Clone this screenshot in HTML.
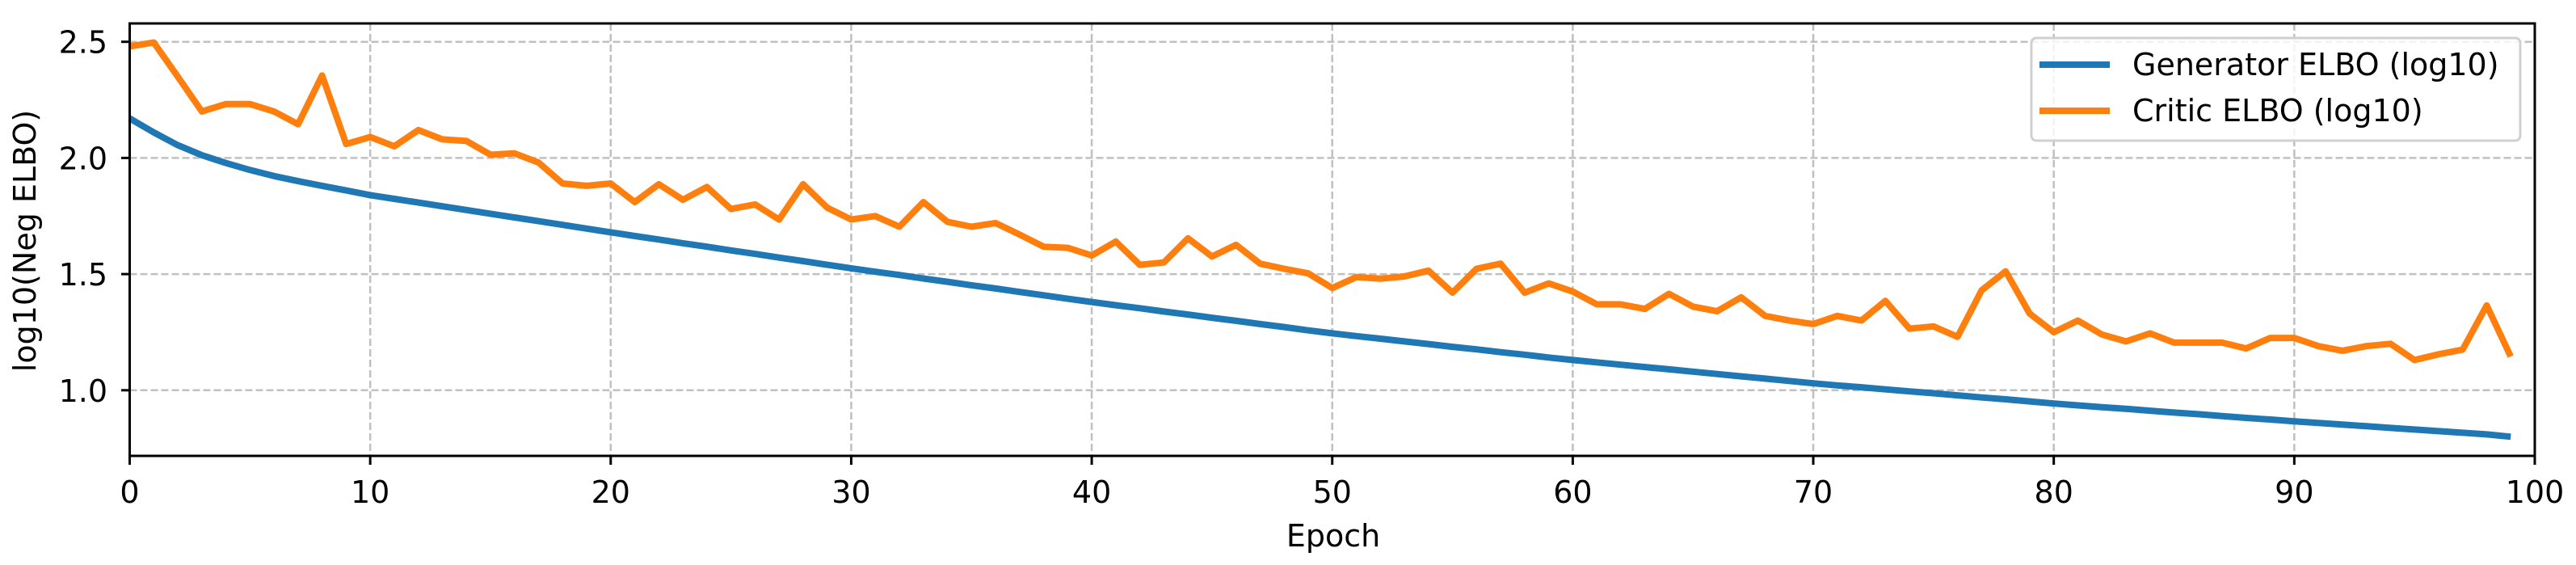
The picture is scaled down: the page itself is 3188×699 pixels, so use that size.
<!DOCTYPE html>
<html><head><meta charset="utf-8"><style>
html,body{margin:0;padding:0;background:#fff;}
svg{display:block;font-family:"DejaVu Sans","Liberation Sans",sans-serif;}
</style></head><body>
<svg id="chart" width="3188" height="699" viewBox="0 0 3188 699" xmlns="http://www.w3.org/2000/svg">
<g id="grid"></g>
<g id="series"></g>
<rect x="160.5" y="29" width="2976.5" height="535" fill="none" stroke="#000" stroke-width="3"/>
<g id="ticks"></g>
<text x="1650" y="676" font-size="38" text-anchor="middle">Epoch</text>
<text transform="translate(44,298) rotate(-90)" font-size="38" text-anchor="middle">log10(Neg ELBO)</text>
<g>
<rect x="2514" y="47" width="605" height="127" rx="6" fill="#fff" fill-opacity="0.8" stroke="#d0d0d0" stroke-width="3"/>
<line x1="2524" y1="80" x2="2611" y2="80" stroke="#1f77b4" stroke-width="8"/>
<text x="2639" y="93" font-size="38">Generator ELBO (log10)</text>
<line x1="2524" y1="137" x2="2611" y2="137" stroke="#ff7f0e" stroke-width="8"/>
<text x="2639" y="150" font-size="38">Critic ELBO (log10)</text>
</g>
</svg>
<script>
const generator = [2.17,2.11,2.055,2.012,1.978,1.948,1.922,1.9,1.88,1.86,1.84,
1.824,1.808,1.792,1.776,1.76,1.744,1.728,1.712,1.696,1.68,
1.664,1.649,1.633,1.618,1.602,1.587,1.571,1.556,1.54,1.525,
1.51,1.496,1.481,1.467,1.452,1.438,1.423,1.409,1.394,1.38,
1.366,1.353,1.339,1.326,1.312,1.299,1.285,1.272,1.258,1.245,
1.233,1.222,1.21,1.199,1.187,1.176,1.164,1.153,1.141,1.13,
1.12,1.11,1.1,1.09,1.08,1.07,1.06,1.05,1.04,1.03,
1.021,1.013,1.004,0.995,0.987,0.978,0.969,0.961,0.952,0.943,
0.935,0.927,0.92,0.912,0.904,0.897,0.889,0.881,0.874,0.866,
0.859,0.852,0.845,0.838,0.831,0.824,0.817,0.81,0.8];
const critic = [2.48,2.497,2.35,2.2,2.232,2.232,2.2,2.145,2.355,2.06,
2.09,2.05,2.12,2.08,2.073,2.014,2.02,1.98,1.89,1.88,
1.89,1.81,1.887,1.82,1.875,1.78,1.8,1.735,1.887,1.786,
1.735,1.75,1.704,1.81,1.725,1.704,1.72,1.67,1.618,1.613,
1.58,1.64,1.54,1.55,1.654,1.576,1.626,1.545,1.523,1.503,
1.44,1.487,1.48,1.49,1.515,1.42,1.523,1.545,1.42,1.46,
1.425,1.37,1.37,1.35,1.415,1.36,1.34,1.4,1.32,1.3,
1.285,1.32,1.3,1.385,1.265,1.275,1.23,1.43,1.512,1.33,
1.25,1.3,1.24,1.21,1.245,1.205,1.205,1.205,1.18,1.225,
1.225,1.19,1.17,1.19,1.2,1.13,1.155,1.175,1.365,1.145];
const xTicks = [0,10,20,30,40,50,60,70,80,90,100];
const yTicks = [1.0,1.5,2.0,2.5];
const yTickLabels = ["1.0","1.5","2.0","2.5"];

const NS = "http://www.w3.org/2000/svg";
const X0 = 160.5, X1 = 3137, XMIN = 0, XMAX = 100;
const Y0 = 482.8, Y1 = 51.7, YA = 1.0, YB = 2.5;
function sx(v){ return X0 + (v - XMIN) / (XMAX - XMIN) * (X1 - X0); }
function sy(v){ return Y0 + (v - YA) / (YB - YA) * (Y1 - Y0); }
function mk(tag, attrs, parent){
  const el = document.createElementNS(NS, tag);
  for (const k in attrs) el.setAttribute(k, attrs[k]);
  parent.appendChild(el);
  return el;
}
const grid = document.getElementById('grid');
const ticks = document.getElementById('ticks');
const series = document.getElementById('series');

xTicks.forEach(function(t){
  const x = sx(t);
  const g = mk('line', {x1:x, y1:29, x2:x, y2:564, stroke:'#b0b0b0', 'stroke-opacity':0.8, 'stroke-width':2.5, 'stroke-dasharray':'9,4'}, grid);
  
  
  const tk = mk('line', {x1:x, y1:564, x2:x, y2:575, stroke:'#000', 'stroke-width':3}, ticks);
  
  
  const lb = mk('text', {x:x, y:622, 'font-size':38, 'text-anchor':'middle'}, ticks);
  lb.textContent = String(t);
  
  
});
yTicks.forEach(function(t, i){
  const y = sy(t);
  const g = mk('line', {x1:160.5, y1:y, x2:3137, y2:y, stroke:'#b0b0b0', 'stroke-opacity':0.8, 'stroke-width':2.5, 'stroke-dasharray':'9,4'}, grid);
  
  
  const tk = mk('line', {x1:150, y1:y, x2:160.5, y2:y, stroke:'#000', 'stroke-width':3}, ticks);
  
  
  const lb = mk('text', {x:133, y:y + 14, 'font-size':38, 'text-anchor':'end'}, ticks);
  lb.textContent = yTickLabels[i];
  
  
});
function pathFor(arr){
  return arr.map(function(v, i){ return (i ? 'L' : 'M') + sx(i).toFixed(1) + ',' + sy(v).toFixed(1); }).join(' ');
}
const gl = mk('path', {d:pathFor(generator), fill:'none', stroke:'#1f77b4', 'stroke-width':8, 'stroke-linejoin':'round'}, series);


const cl = mk('path', {d:pathFor(critic), fill:'none', stroke:'#ff7f0e', 'stroke-width':8, 'stroke-linejoin':'round'}, series);


</script>
</body></html>
